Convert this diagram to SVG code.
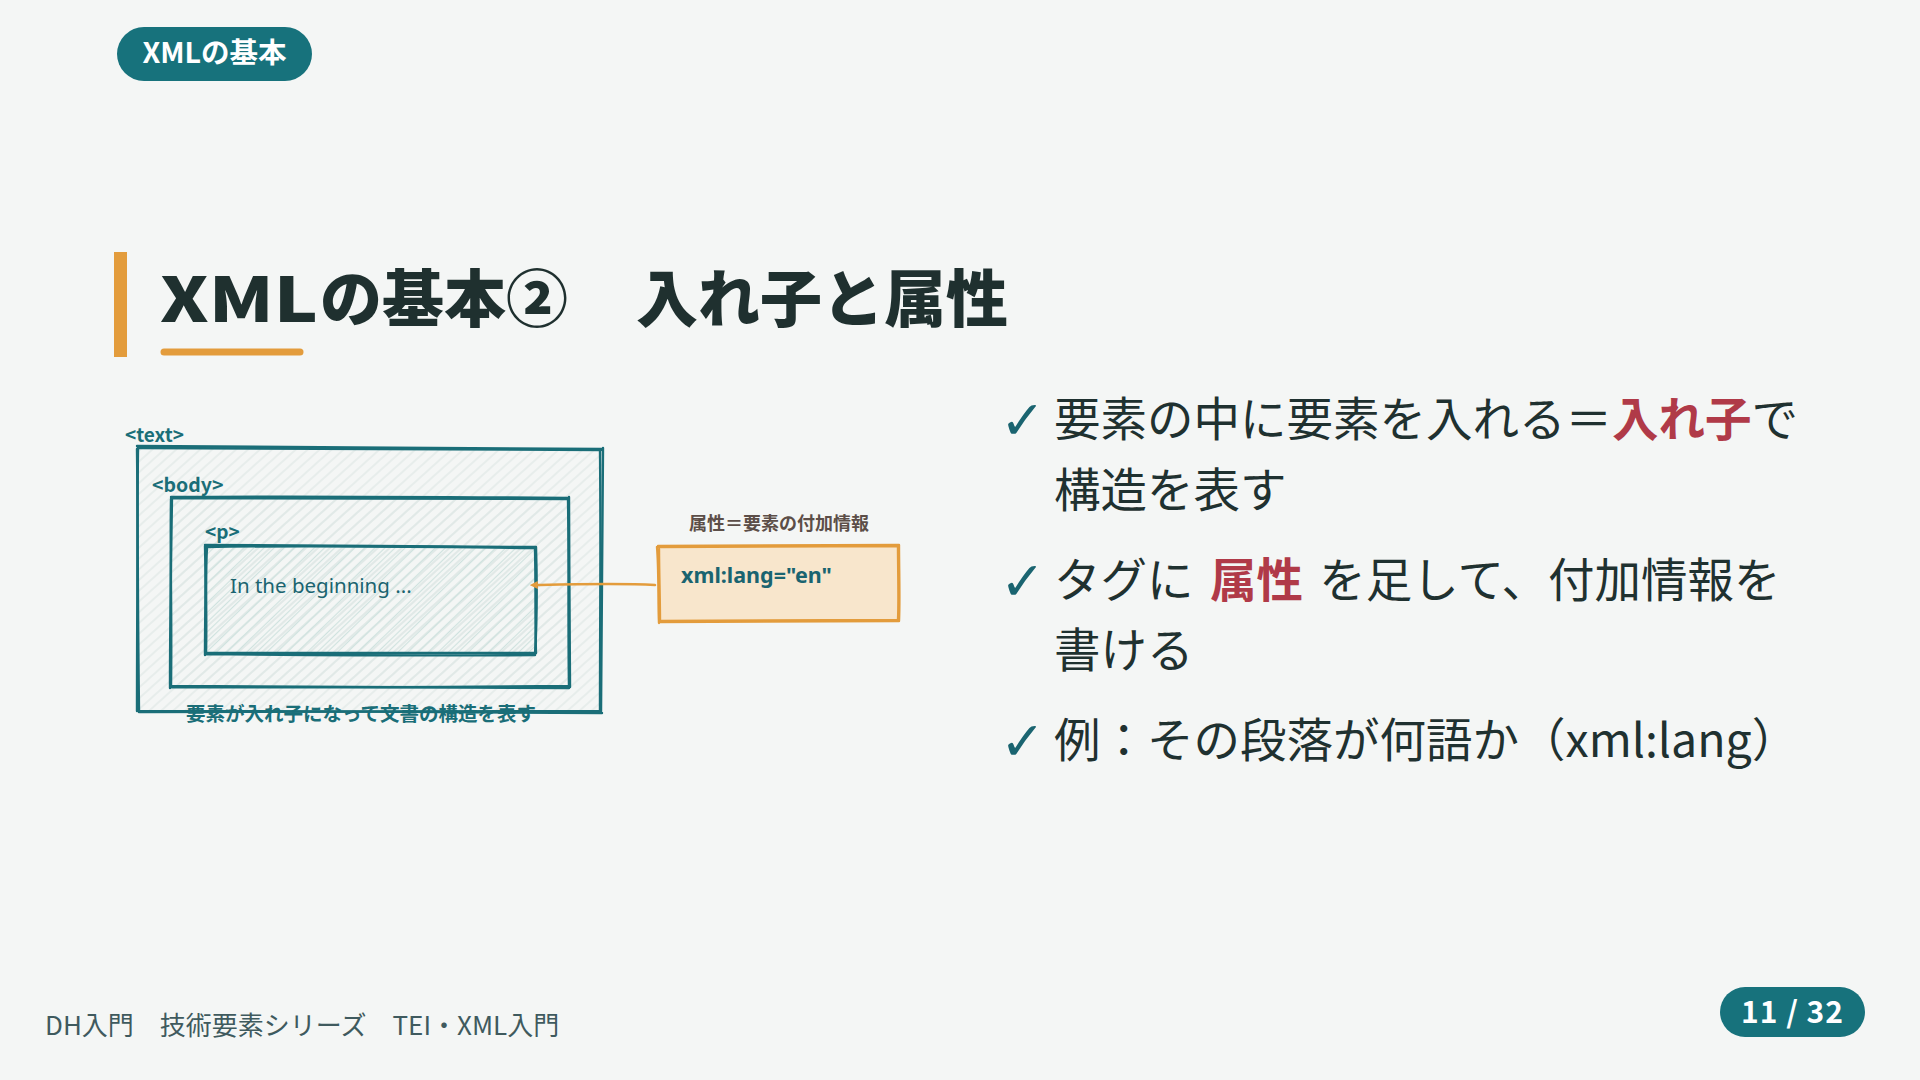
<svg xmlns="http://www.w3.org/2000/svg" width="1920" height="1080" viewBox="0 0 1920 1080">
<style>
.pilltxt{font-family:"Noto Sans CJK JP","Noto Sans",sans-serif;font-weight:700;fill:#ffffff}
.title{font-family:"Noto Sans CJK JP","Noto Sans",sans-serif;font-weight:900;fill:#1f302f;font-size:62px}
.body{font-family:"Noto Sans CJK JP","Noto Sans",sans-serif;font-size:46.5px;fill:#1f3130}
.em{font-weight:700;fill:#b03a48}
.check{font-family:"DejaVu Sans",sans-serif;font-weight:700;font-size:54px;fill:#1a6470}
.tag{font-family:"Noto Sans CJK JP","Noto Sans",sans-serif;font-weight:700;fill:#1a6e78}
.sk{fill:none;stroke:#1a6e78;stroke-width:2.4;stroke-linecap:round;stroke-linejoin:round}
.skA{fill:none;stroke:#e39c3c;stroke-width:2.4;stroke-linecap:round;stroke-linejoin:round}
.foot{font-family:"Noto Sans CJK JP","Noto Sans",sans-serif;font-size:26px;fill:#3f5a5e}
</style>
<defs>
<pattern id="hatchL" patternUnits="userSpaceOnUse" width="8" height="8" patternTransform="rotate(-42)">
<line x1="0" y1="4" x2="8" y2="4" stroke="#dde5e3" stroke-width="1.1"/>
</pattern>
<pattern id="hatchP" patternUnits="userSpaceOnUse" width="7" height="7" patternTransform="rotate(-44)">
<line x1="0" y1="3.5" x2="7" y2="3.5" stroke="#cfe2df" stroke-width="1.2"/>
</pattern>
<marker id="arrL" viewBox="0 0 10 10" refX="1" refY="5" markerWidth="8" markerHeight="8" markerUnits="userSpaceOnUse" orient="auto-start-reverse">
<path d="M0,0 L10,5 L0,10 z" fill="#e39c3c"/>
</marker>
</defs>
<rect x="0" y="0" width="1920" height="1080" fill="#f4f6f5"/>

<g id="section-pill">
<rect x="117" y="27" width="195" height="54" rx="27" fill="#17727c"/>
<text class="pilltxt" x="214.5" y="63" font-size="28.5" text-anchor="middle">XMLの基本</text>
</g>

<g id="title">
<rect x="114" y="252" width="13" height="105" fill="#e39c3c"/>
<text class="title" y="322"><tspan x="160" textLength="158" lengthAdjust="spacingAndGlyphs">XML</tspan><tspan x="320">の基本②</tspan><tspan x="636">入れ子と属性</tspan></text>
<line x1="164" y1="352" x2="300" y2="352" stroke="#e39c3c" stroke-width="7" stroke-linecap="round"/>
</g>

<g id="node-text">
<path d="M138,447 L602,449 L601,713 L139,711 Z" fill="url(#hatchL)"/>
<path class="sk" d="M137,446 C290,447 450,448 602,449 M603,448 C602,540 601,630 601,713 M602,713 C450,712 290,711 138,711 M139,712 C138,620 137,530 138,447"/>
<path class="sk" d="M139,448 C300,448 460,450 601,450 M600,450 C601,540 600,620 600,712 M600,711 C440,711 280,712 140,712 M137,711 C137,630 138,520 137,449" stroke-width="1.4"/>
<text class="tag" x="125" y="442" font-size="19">&lt;text&gt;</text>
<text class="tag" x="361" y="721" font-size="19.5" text-anchor="middle">要素が入れ子になって文書の構造を表す</text>
</g>

<g id="node-body">
<path d="M171,497 L569,498 L569,687 L171,687 Z" fill="url(#hatchL)"/>
<path class="sk" d="M171,497 C300,496 450,497 569,498 M569,497 C569,560 570,630 570,687 M570,686 C440,687 300,688 171,687 M170,688 C170,620 171,560 172,497"/>
<path class="sk" d="M172,498 C300,499 440,498 568,499 M568,499 C569,560 568,630 569,686 M569,688 C430,688 300,686 172,686 M171,686 C172,620 170,560 171,499" stroke-width="1.4"/>
<text class="tag" x="152" y="492" font-size="19.5">&lt;body&gt;</text>
</g>

<g id="node-p">
<path d="M205,546 L536,547 L535,655 L205,654 Z" fill="url(#hatchP)"/>
<path class="sk" d="M205,545 C310,546 430,546 536,547 M536,547 C537,580 537,620 535,655 M535,655 C430,656 310,655 205,654 M205,655 C205,620 206,580 205,546"/>
<path class="sk" d="M206,547 C320,545 430,547 535,548 M535,549 C536,590 535,625 536,653 M536,653 C420,653 310,654 206,653 M206,653 C207,620 205,580 207,547" stroke-width="1.4"/>
<text class="tag" x="205" y="539" font-size="19">&lt;p&gt;</text>
<text x="230" y="593" font-family="Noto Sans, sans-serif" font-size="20.5" fill="#1a6470">In the beginning ...</text>
</g>

<g id="node-attr">
<text x="779" y="530" font-family="Noto Sans CJK JP, Noto Sans, sans-serif" font-weight="700" font-size="18" fill="#5c4e48" text-anchor="middle">属性＝要素の付加情報</text>
<path d="M658,546 L899,545 L899,621 L659,622 Z" fill="#f8e6cc"/>
<path class="skA" d="M658,546 C740,545 820,545 899,545 M899,545 C899,570 900,600 899,621 M899,621 C820,621 740,622 659,622 M659,623 C658,600 659,570 657,547"/>
<path class="skA" d="M659,547 C740,546 820,547 898,546 M898,546 C898,570 899,600 898,620 M898,620 C820,620 740,621 660,621 M660,621 C660,600 659,570 659,549" stroke-width="1.3"/>
<text x="681" y="583" font-family="Noto Sans, sans-serif" font-weight="700" font-size="21.5" fill="#1a6470">xml:lang="en"</text>
</g>

<g id="connectors">
<path d="M655,585 C620,583 580,584 537,585" fill="none" stroke="#e39c3c" stroke-width="2.6" stroke-linecap="round" marker-end="url(#arrL)"/>
</g>

<g id="bullets">
<text class="check" x="1000" y="439">✓</text>
<text class="body" x="1054" y="436">要素の中に要素を入れる＝<tspan class="em">入れ子</tspan>で</text>
<text class="body" x="1054" y="507">構造を表す</text>
<text class="check" x="1000" y="600">✓</text>
<text class="body" x="1054" y="597" word-spacing="6">タグに <tspan class="em">属性</tspan> を足して、付加情報を</text>
<text class="body" x="1054" y="667">書ける</text>
<text class="check" x="1000" y="760">✓</text>
<text class="body" x="1054" y="757">例：その段落が何語か（xml:lang）</text>
</g>

<g id="footer">
<text class="foot" x="45" y="1035">DH入門　技術要素シリーズ　TEI・XML入門</text>
<rect x="1720" y="987" width="145" height="50" rx="25" fill="#17727c"/>
<text class="pilltxt" x="1792.5" y="1023" font-size="30" letter-spacing="1" text-anchor="middle">11 / 32</text>
</g>
</svg>
